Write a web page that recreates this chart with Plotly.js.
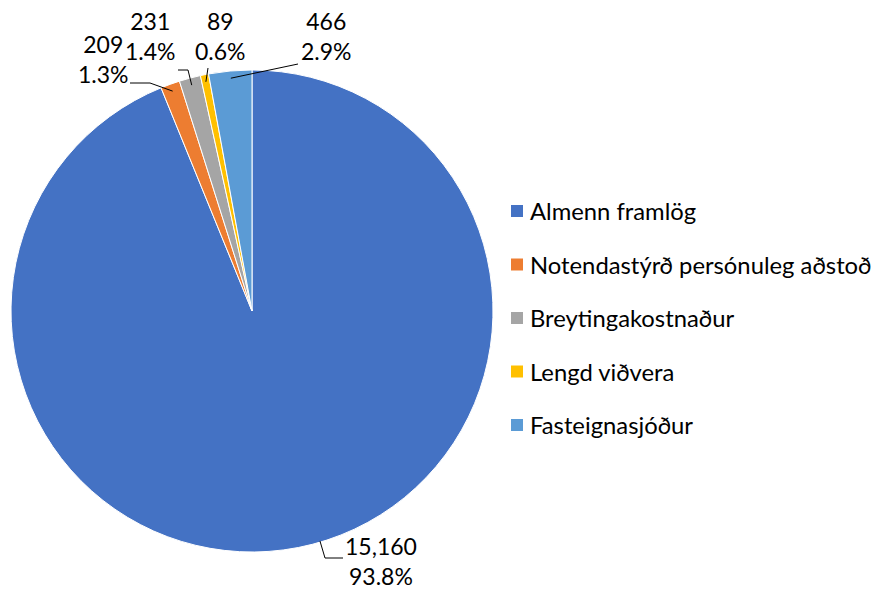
<!DOCTYPE html>
<html>
<head>
<meta charset="utf-8">
<script src="https://cdn.plot.ly/plotly-3.0.1.min.js"></script>
<style>html,body{margin:0;padding:0;background:#fff}#chart{width:877px;height:591px}</style>
</head>
<body>
<div id="chart"></div>
<script>
// Data
const categories = ["Almenn framlög", "Notendastýrð persónuleg aðstoð", "Breytingakostnaður", "Lengd viðvera", "Fasteignasjóður"];
const values = [15160, 209, 231, 89, 466];
const colors = ["#4472C4", "#ED7D31", "#A5A5A5", "#FFC000", "#5B9BD5"];

// Layout geometry (pixels)
const W = 877, H = 591;
const CX = 252, CY = 311, R = 241;
const FONT = "Lato, 'Open Sans', sans-serif";
const FS = 23, LEG_FS = 23.8;
// label block centers and leader-line paths (elbow, end) in pixels
const labelPos = [
  {x: 381, y: 561, elbow: [325, 558], end: [343, 558], toward: true},
  {x: 103, y: 59, elbow: [150, 83], end: [130, 83]},
  {x: 150, y: 36, elbow: [188, 70], end: [178, 70]},
  {x: 221, y: 36, elbow: [208, 68], end: [208, 68]},
  {x: 326, y: 36, elbow: [298, 64], end: [298, 64]}
];

const px = x => x / W, py = y => 1 - y / H;
const total = values.reduce((a, b) => a + b, 0);

const shapes = [], annotations = [];
let cum = 0;
values.forEach((v, i) => {
  const mid = (cum + v / 2) / total * 2 * Math.PI; cum += v;
  const L = labelPos[i];
  let sx, sy;
  if (L.toward) {
    const dx = L.elbow[0] - CX, dy = L.elbow[1] - CY, d = Math.hypot(dx, dy);
    sx = CX + R * 0.995 * dx / d; sy = CY + R * 0.995 * dy / d;
  } else {
    sx = CX + R * 0.97 * Math.sin(mid); sy = CY - R * 0.97 * Math.cos(mid);
  }
  shapes.push({type: "path", xref: "paper", yref: "paper",
    path: `M ${px(sx)} ${py(sy)} L ${px(L.elbow[0])} ${py(L.elbow[1])} L ${px(L.end[0])} ${py(L.end[1])}`,
    line: {color: "#000000", width: 1}});
  const pct = (v / total * 100).toFixed(1) + "%";
  annotations.push({xref: "paper", yref: "paper", x: px(L.x), y: py(L.y), xanchor: "center", yanchor: "middle",
    text: v.toLocaleString("en-US") + "<br>" + pct, showarrow: false, align: "center",
    font: {family: FONT, size: FS, color: "#000000"}});
});

// manual legend
const legX = 511, legY0 = 211, legDY = 53.5, sq = 12;
categories.forEach((c, i) => {
  const y = legY0 + i * legDY;
  shapes.push({type: "rect", xref: "paper", yref: "paper",
    x0: px(legX), x1: px(legX + sq), y0: py(y - sq / 2), y1: py(y + sq / 2),
    fillcolor: colors[i], line: {width: 0}});
  annotations.push({xref: "paper", yref: "paper", x: px(legX + sq + 5), y: py(y), xanchor: "left", yanchor: "middle",
    text: c, showarrow: false, font: {family: FONT, size: LEG_FS, color: "#000000"}});
});

const trace = {
  type: "pie", labels: categories, values: values, sort: false, direction: "clockwise", rotation: 0,
  marker: {colors: colors, line: {color: "#ffffff", width: 1}},
  textinfo: "none", hoverinfo: "label+value+percent",
  domain: {x: [px(CX - R), px(CX + R)], y: [py(CY + R), py(CY - R)]}
};

Plotly.newPlot("chart", [trace], {
  width: W, height: H, margin: {l: 0, r: 0, t: 0, b: 0},
  paper_bgcolor: "#ffffff", showlegend: false,
  shapes: shapes, annotations: annotations
}, {displayModeBar: false, staticPlot: true});
</script>
</body>
</html>
